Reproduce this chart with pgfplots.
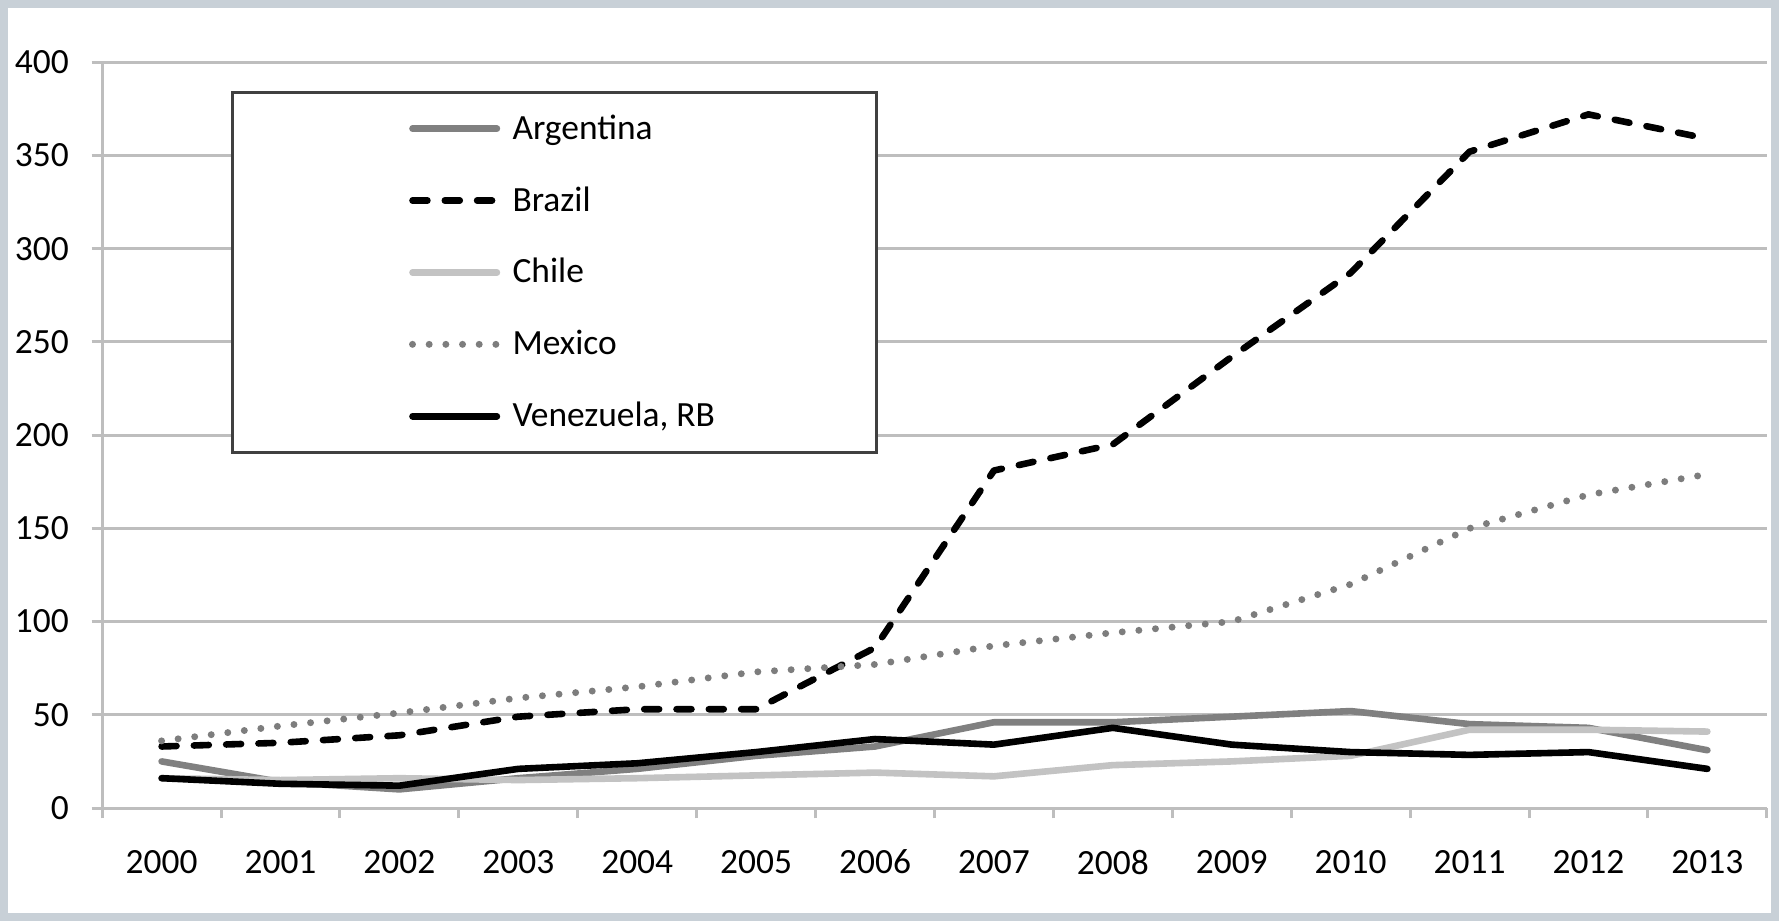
\documentclass[border=0pt]{standalone}
\usepackage{fontspec}
\setmainfont{Carlito}
\usepackage{pgfplots}
\pgfplotsset{compat=1.18}
\definecolor{gridc}{RGB}{190,190,190}
\definecolor{framec}{RGB}{200,208,215}
\definecolor{argc}{RGB}{128,128,128}
\definecolor{chc}{RGB}{195,195,195}
\definecolor{mxc}{RGB}{125,125,125}
\definecolor{legc}{RGB}{64,64,64}
\begin{document}
\fontsize{10.2}{12}\selectfont
\begin{tikzpicture}
\path[use as bounding box] (-29.4pt,-32.5pt) rectangle (482.7pt,232.6pt);
\fill[white] (-29.4pt,-32.5pt) rectangle (482.7pt,232.6pt);
\draw[framec, line width=2.2pt] (-28.3pt,-31.4pt) rectangle (481.6pt,231.5pt);
\begin{axis}[
  at={(0pt,0pt)}, anchor=south west,
  scale only axis, width=479.2pt, height=214.7pt,
  xmin=-0.5, xmax=13.5, ymin=0, ymax=400,
  axis x line*=bottom, axis y line*=left,
  axis line style={gridc, line width=0.85pt, -},
  xtick={0,1,2,3,4,5,6,7,8,9,10,11,12,13},
  xticklabels={2000,2001,2002,2003,2004,2005,2006,2007,2008,2009,2010,2011,2012,2013},
  major x tick style={draw=none},
  minor xtick={-0.5,0.5,1.5,2.5,3.5,4.5,5.5,6.5,7.5,8.5,9.5,10.5,11.5,12.5,13.5},
  minor x tick style={gridc, line width=0.85pt},
  ytick={0,50,100,150,200,250,300,350,400},
  ytick style={gridc, line width=0.85pt},
  tick align=outside,
  major tick length=3pt, minor tick length=3pt,
  ymajorgrids,
  major grid style={gridc, line width=0.85pt},
  /pgf/number format/assume math mode=true,
  tick label style={font=\fontsize{10.2}{12}\selectfont},
  yticklabel style={xshift=-3pt},
  xticklabel style={yshift=-5.5pt},
  legend style={at={(0.0773,0.961)}, anchor=north west, draw=legc, line width=0.8pt,
    inner sep=0pt, row sep=0pt, column sep=0pt,
    nodes={inner sep=0pt, minimum height=20.7pt, text depth=0.1em, font=\fontsize{10.2}{12}\selectfont},
    cells={anchor=west}},
  legend image code/.code={\path (-50pt,0pt) (28.7pt,0pt); \draw[#1] (0.9pt,0pt) -- (25.2pt,0pt);},
  every axis plot/.append style={line join=round},
]
\addplot[argc, line width=1.9pt, line cap=round] coordinates {
(0,25) (1,14) (2,10) (3,16) (4,21) (5,28) (6,33) (7,46) (8,46) (9,49) (10,52) (11,45) (12,43) (13,31)};
\addlegendentry{\makebox[104.7pt][l]{Argentina}}
\addplot[black, line width=1.9pt, line cap=round, dash pattern=on 4.3pt off 5pt] coordinates {
(0,33) (1,35) (2,39) (3,49) (4,53) (5,53) (6,86) (7,181) (8,195) (9,242) (10,287) (11,352) (12,372) (13,359)};
\addlegendentry{\makebox[104.7pt][l]{Brazil}}
\addplot[chc, line width=1.9pt, line cap=round] coordinates {
(0,16) (1,15) (2,16) (3,15) (4,16) (5,17.5) (6,19) (7,17) (8,23) (9,25) (10,28) (11,42) (12,42) (13,41)};
\addlegendentry{\makebox[104.7pt][l]{Chile}}
\addplot[mxc, line width=2pt, line cap=round, dash pattern=on 0pt off 4.8pt] coordinates {
(0,36) (1,44) (2,51) (3,59) (4,65) (5,73) (6,77) (7,87) (8,94) (9,100) (10,120) (11,150) (12,168) (13,179)};
\addlegendentry{\makebox[104.7pt][l]{Mexico}}
\addplot[black, line width=1.9pt, line cap=round] coordinates {
(0,16) (1,13) (2,12) (3,21) (4,24) (5,30) (6,37) (7,34) (8,43) (9,34) (10,30) (11,28.5) (12,30) (13,21)};
\addlegendentry{\makebox[104.7pt][l]{Venezuela, RB}}
\end{axis}
\end{tikzpicture}
\end{document}
